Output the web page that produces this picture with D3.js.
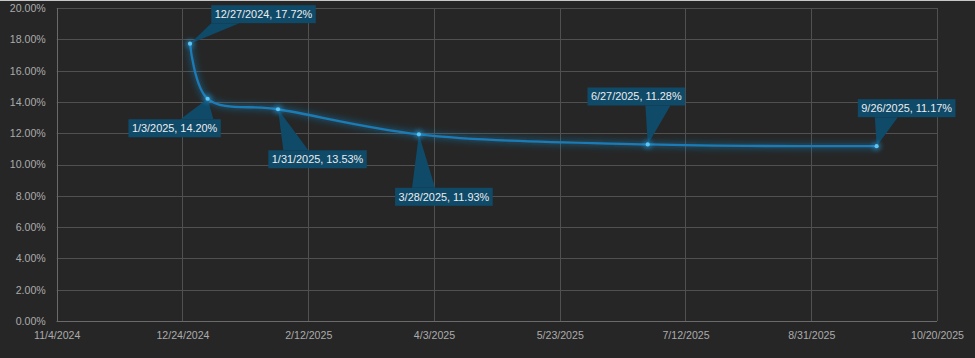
<!DOCTYPE html>
<html><head><meta charset="utf-8">
<script src="https://cdn.jsdelivr.net/npm/d3@7"></script>
<style>
html,body{margin:0;padding:0;background:#262626;}
svg{display:block;}
text{font-family:"Liberation Sans",Arial,sans-serif;}
</style></head>
<body>
<svg id="c" width="975" height="358"></svg>
<script>
// ---- data ----
const dates = ["2024-12-27","2025-01-03","2025-01-31","2025-03-28","2025-06-27","2025-09-26"];
const dateLabels = ["12/27/2024","1/3/2025","1/31/2025","3/28/2025","6/27/2025","9/26/2025"];
const values = [17.72, 14.20, 13.53, 11.93, 11.28, 11.17];
const xTickDates = ["2024-11-04","2024-12-24","2025-02-12","2025-04-03","2025-05-23","2025-07-12","2025-08-31","2025-10-20"];
const xTickLabels = ["11/4/2024","12/24/2024","2/12/2025","4/3/2025","5/23/2025","7/12/2025","8/31/2025","10/20/2025"];
const yTicks = [0,2,4,6,8,10,12,14,16,18,20];

// ---- label layout (offsets of box centre from point, wedge base on box edge) ----
const labelLayout = [
  {dx: 73.5, dy:-29.5, edge:"bottom", b0:0,  b1:28},
  {dx:-33,   dy: 29.5, edge:"top",    b0:52, b1:85},
  {dx: 39.5, dy: 50,   edge:"top",    b0:15, b1:40},
  {dx: 25,   dy: 62.5, edge:"top",    b0:17, b1:40},
  {dx:-11.5, dy:-48,   edge:"bottom", b0:58, b1:83},
  {dx: 30,   dy:-38,   edge:"bottom", b0:17, b1:40}
];

const parse = d3.utcParse("%Y-%m-%d");
const svg = d3.select("#c");
const W = 975, H = 358;
const m = {left:56.7, right:W-937, top:8, bottom:H-321};

svg.append("rect").attr("width",W).attr("height",H).attr("fill","#262626");
svg.append("rect").attr("width",W).attr("height",1).attr("fill","#c8c8c8");

const x = d3.scaleUtc().domain([parse(xTickDates[0]), parse(xTickDates[xTickDates.length-1])]).range([m.left, W-m.right]);
const y = d3.scaleLinear().domain([0,20]).range([H-m.bottom, m.top]);

const defs = svg.append("defs");
const f = defs.append("filter").attr("id","glow").attr("x","-20%").attr("y","-50%").attr("width","140%").attr("height","200%");
f.append("feGaussianBlur").attr("stdDeviation",3);
const f2 = defs.append("filter").attr("id","glow2").attr("x","-200%").attr("y","-200%").attr("width","500%").attr("height","500%");
f2.append("feGaussianBlur").attr("stdDeviation",2.5);

// grid
const g = svg.append("g");
g.selectAll("line.h").data(yTicks).join("line")
  .attr("x1",m.left).attr("x2",W-m.right)
  .attr("y1",d=>Math.round(y(d))+0.5).attr("y2",d=>Math.round(y(d))+0.5)
  .attr("stroke","#505050").attr("stroke-width",1);
g.selectAll("line.v").data(xTickDates).join("line")
  .attr("x1",d=>Math.round(x(parse(d)))+0.5).attr("x2",d=>Math.round(x(parse(d)))+0.5)
  .attr("y1",m.top).attr("y2",H-m.bottom)
  .attr("stroke",(d,i)=>i===0?"#6a6a6a":"#505050").attr("stroke-width",1);
g.append("line").attr("x1",m.left).attr("x2",W-m.right)
  .attr("y1",Math.round(y(0))+0.5).attr("y2",Math.round(y(0))+0.5)
  .attr("stroke","#6a6a6a");

// axes (text via d3 axes)
const yAxis = d3.axisLeft(y).tickValues(yTicks).tickFormat(d=>d.toFixed(2)+"%").tickSize(0).tickPadding(11);
const ya = svg.append("g").attr("transform",`translate(${m.left},0)`).call(yAxis);
const xAxis = d3.axisBottom(x).tickValues(xTickDates.map(parse)).tickFormat((d,i)=>xTickLabels[i]).tickSize(0).tickPadding(10);
const xa = svg.append("g").attr("transform",`translate(0,${H-m.bottom})`).call(xAxis);
[ya,xa].forEach(a=>{
  a.select(".domain").remove();
  a.selectAll("text").attr("fill","#ababab").style("font-size","10.6px").style("font-family","'Liberation Sans',Arial,sans-serif");
});

// data
const pts = dates.map((d,i)=>({x:x(parse(d)), y:y(values[i]), v:values[i], lab:dateLabels[i]}));
const line = d3.line().x(d=>d.x).y(d=>d.y).curve(d3.curveCatmullRom.alpha(0.5));

svg.append("path").attr("d",line(pts)).attr("fill","none")
  .attr("stroke","#1a84c4").attr("stroke-width",6).attr("stroke-opacity",0.4).attr("filter","url(#glow)");
svg.append("path").attr("d",line(pts)).attr("fill","none")
  .attr("stroke","#1a7cb6").attr("stroke-width",2.3);

// callouts
const lg = svg.append("g");
pts.forEach((p,i)=>{
  const L = labelLayout[i];
  const txt = `${p.lab}, ${p.v.toFixed(2)}%`;
  const t = lg.append("text").text(txt).style("font-size","10.9px").attr("fill","#ededed");
  const tw = t.node().getComputedTextLength();
  const bw = tw + 7, bh = 18;
  const cx = p.x + L.dx, cy = p.y + L.dy;
  const bx = cx - bw/2, by = cy - bh/2;
  const ey = L.edge==="top" ? by : by+bh;
  lg.insert("path","text").attr("d",`M${p.x},${p.y}L${bx+L.b0},${ey}L${bx+L.b1},${ey}Z`).attr("fill","#0f4a69");
  lg.insert("rect","text").attr("x",bx).attr("y",by).attr("width",bw).attr("height",bh).attr("fill","#0f4a69");
  t.attr("x",cx).attr("y",cy+3.8).attr("text-anchor","middle");
});

// points
svg.selectAll("circle.g").data(pts).join("circle").attr("cx",d=>d.x).attr("cy",d=>d.y).attr("r",4)
  .attr("fill","#2aa8ee").attr("opacity",0.55).attr("filter","url(#glow2)");
svg.selectAll("circle.p").data(pts).join("circle").attr("cx",d=>d.x).attr("cy",d=>d.y).attr("r",2.1)
  .attr("fill","#5cc6f4");
</script>
</body></html>
